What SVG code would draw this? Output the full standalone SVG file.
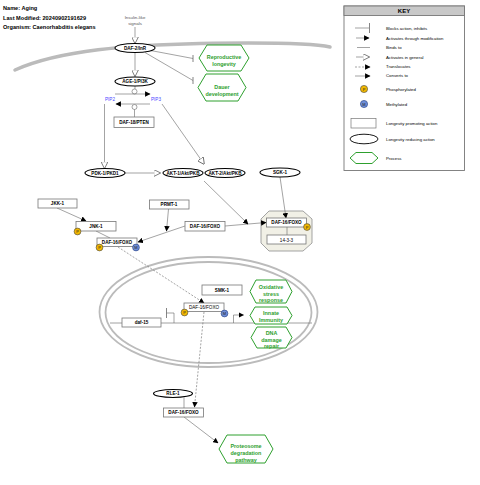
<svg xmlns="http://www.w3.org/2000/svg" width="480" height="485" viewBox="0 0 480 485">
<defs>
<style>
text{font-family:"Liberation Sans",Arial,sans-serif}
.title{font-size:5.6px;font-weight:bold;fill:#000}
.lbl{font-size:4.6px;font-weight:bold;fill:#000;text-anchor:middle}
.box{fill:#fff;stroke:#777;stroke-width:0.8}
.ell{fill:#fff;stroke:#000;stroke-width:1.1}
.hex{fill:#fff;stroke:#2ea02e;stroke-width:1}
.htxt{font-size:5.4px;font-weight:bold;fill:#2ea02e;text-anchor:middle}
.ln{fill:none;stroke:#666;stroke-width:0.6}
.dash{fill:none;stroke:#666;stroke-width:0.6;stroke-dasharray:2,1.5}
.blue{font-size:4.6px;fill:#4a4aff;text-anchor:middle}
.key{font-size:4.3px;fill:#000}
.pc{fill:#f2b800;stroke:#444;stroke-width:0.6}
.mc{fill:#6f8fd8;stroke:#223a80;stroke-width:0.6}
.pm{font-size:4px;fill:#222;text-anchor:middle}
</style>
<marker id="open" viewBox="0 0 10 10" refX="9" refY="5" markerWidth="7" markerHeight="7" markerUnits="userSpaceOnUse" orient="auto">
<path d="M0,0 L10,5 L0,10 Z" fill="#fff" stroke="#666" stroke-width="1.2"/>
</marker>
<marker id="fill" viewBox="0 0 10 10" refX="9" refY="5" markerWidth="5.5" markerHeight="5.5" markerUnits="userSpaceOnUse" orient="auto">
<path d="M0,0 L10,5 L0,10 Z" fill="#000"/>
</marker>
</defs>
<rect width="480" height="485" fill="#fff"/>

<g id="header">
<text class="title" x="3" y="10">Name: Aging</text>
<text class="title" x="3" y="19.5">Last Modified: 20240902191629</text>
<text class="title" x="3" y="29">Organism: Caenorhabditis elegans</text>
</g>

<g id="membrane">
<path d="M15,70 C60,50 130,45 200,43.5 C260,42.5 310,42.5 330,47" fill="none" stroke="#bbb" stroke-width="3.5" stroke-linecap="round"/>
</g>

<g id="nucleus">
<ellipse cx="208.5" cy="312" rx="109" ry="55" fill="none" stroke="#bbb" stroke-width="1.8"/>
<ellipse cx="208.5" cy="312.5" rx="103" ry="50.5" fill="none" stroke="#bbb" stroke-width="1.8"/>
<line x1="110" y1="323" x2="312" y2="323" stroke="#888" stroke-width="0.8"/>
</g>

<g id="complex">
<polygon points="269,211 303,211 312,219 312,243 303,251 269,251 261,243 261,219" fill="#f1f0e6" stroke="#999" stroke-width="0.9"/>
</g>

<g id="connectors">
<text x="135" y="19" style="font-size:4.4px;fill:#555;text-anchor:middle">Insulin-like</text>
<text x="135" y="24.5" style="font-size:4.4px;fill:#555;text-anchor:middle">signals</text>
<line class="ln" x1="135" y1="27" x2="135" y2="43" marker-end="url(#open)"/>
<line class="ln" x1="135" y1="53" x2="135" y2="76" marker-end="url(#open)"/>
<line class="ln" x1="148" y1="50" x2="193" y2="58.5"/>
<line x1="193" y1="55" x2="193" y2="62" stroke="#666" stroke-width="0.8"/>
<line class="ln" x1="145" y1="52.5" x2="193" y2="80.5"/>
<line x1="193" y1="77" x2="193" y2="84" stroke="#666" stroke-width="0.8"/>
<line class="ln" x1="135" y1="86" x2="135" y2="89"/>
<circle cx="134.5" cy="91.5" r="2.5" fill="#fff" stroke="#666" stroke-width="0.6"/>
<line class="ln" x1="115" y1="94" x2="150" y2="94" marker-end="url(#fill)"/>
<line class="ln" x1="150" y1="104" x2="116" y2="104" marker-end="url(#fill)"/>
<circle cx="134.5" cy="107" r="2.5" fill="#fff" stroke="#666" stroke-width="0.6"/>
<line class="ln" x1="134.5" y1="109.5" x2="134.5" y2="117"/>
<line class="ln" x1="104.5" y1="104" x2="104.5" y2="168" marker-end="url(#open)"/>
<line class="ln" x1="162" y1="104" x2="204" y2="164" marker-end="url(#open)"/>
<line class="ln" x1="125" y1="173" x2="160" y2="173" marker-end="url(#open)"/>
<line class="ln" x1="57" y1="208" x2="86" y2="221" marker-end="url(#fill)"/>
<line class="ln" x1="96" y1="231" x2="110" y2="238"/>
<line class="ln" x1="185" y1="226" x2="138" y2="242" marker-end="url(#fill)"/>
<line class="ln" x1="168.5" y1="209" x2="166.5" y2="231" marker-end="url(#fill)"/>
<line class="ln" x1="225" y1="226" x2="266" y2="222.5" marker-end="url(#fill)"/>
<line class="ln" x1="204" y1="181" x2="248" y2="224" marker-end="url(#fill)"/>
<line class="ln" x1="280" y1="177" x2="286" y2="218" marker-end="url(#fill)"/>
<line class="ln" x1="287" y1="227" x2="287" y2="235"/>
<line class="dash" x1="118" y1="247" x2="204" y2="303" marker-end="url(#fill)"/>
<path class="ln" d="M174,323 V313 H166.5"/>
<line x1="166.5" y1="308" x2="166.5" y2="318" stroke="#666" stroke-width="0.8"/>
<path class="ln" d="M233.5,323 V315 H243.5" marker-end="url(#fill)"/>
<line class="dash" x1="204" y1="312" x2="194.5" y2="407" marker-end="url(#fill)"/>
<line class="ln" x1="184" y1="397.5" x2="184" y2="408"/>
<line class="ln" x1="184" y1="417" x2="218" y2="443" marker-end="url(#fill)"/>
</g>

<g id="DAF-2">
<ellipse class="ell" cx="135" cy="48" rx="20" ry="4.5"/>
<text class="lbl" x="135" y="49.8">DAF-2/InR</text>
</g>
<g id="AGE-1">
<ellipse class="ell" cx="135" cy="81.5" rx="20" ry="4.5"/>
<text class="lbl" x="135" y="83.3">AGE-1/PI3K</text>
</g>
<g id="PIP2"><text class="blue" x="110" y="101">PIP2</text></g>
<g id="PIP3"><text class="blue" x="156" y="101">PIP3</text></g>
<g id="DAF-18">
<rect class="box" x="114" y="117" width="40" height="10.5"/>
<text class="lbl" x="134" y="124">DAF-18/PTEN</text>
</g>
<g id="repro">
<polygon class="hex" points="199,58 207,45 241,45 249,58 241,71 207,71"/>
<text class="htxt" x="224" y="58.5">Reproductive</text>
<text class="htxt" x="224" y="66">longevity</text>
</g>
<g id="dauer">
<polygon class="hex" points="198,87.5 206,74 238,74 246,87.5 238,101 206,101"/>
<text class="htxt" x="222" y="88.5">Dauer</text>
<text class="htxt" x="222" y="96">development</text>
</g>
<g id="PDK-1">
<ellipse class="ell" cx="105" cy="173" rx="20" ry="4.5"/>
<text class="lbl" x="105" y="174.8">PDK-1/PKD1</text>
</g>
<g id="AKT-1">
<ellipse class="ell" cx="183" cy="173" rx="20" ry="4.5"/>
<text class="lbl" x="183" y="174.8">AKT-1/Akt/PKB</text>
</g>
<g id="AKT-2">
<ellipse class="ell" cx="225" cy="173" rx="20" ry="4.5"/>
<text class="lbl" x="225" y="174.8">AKT-2/Akt/PKB</text>
</g>
<g id="SGK-1">
<ellipse class="ell" cx="280" cy="172.5" rx="20" ry="4.5"/>
<text class="lbl" x="280" y="174.3">SGK-1</text>
</g>
<g id="JKK-1">
<rect class="box" x="38" y="199" width="39" height="9"/>
<text class="lbl" x="57.5" y="205.3">JKK-1</text>
</g>
<g id="JNK-1">
<rect class="box" x="76" y="221.5" width="40" height="9.5"/>
<text class="lbl" x="96" y="228">JNK-1</text>
<circle class="pc" cx="77.5" cy="231.5" r="3.4"/>
<text class="pm" x="77.5" y="233">P</text>
</g>
<g id="DAF-16-cyto">
<rect class="box" x="97" y="238" width="40" height="8.5"/>
<text class="lbl" x="117" y="244.3">DAF-16/FOXO</text>
<circle class="pc" cx="99.5" cy="247.5" r="3.4"/>
<text class="pm" x="99.5" y="249">P</text>
<circle class="mc" cx="136" cy="247.5" r="3.4"/>
<text class="pm" x="136" y="249">M</text>
</g>
<g id="PRMT-1">
<rect class="box" x="149.5" y="200" width="39.5" height="9"/>
<text class="lbl" x="169" y="206.3">PRMT-1</text>
</g>
<g id="DAF-16-mid">
<rect class="box" x="185" y="221.5" width="40" height="9.5"/>
<text class="lbl" x="205" y="228">DAF-16/FOXO</text>
</g>
<g id="DAF-16-complex">
<rect class="box" x="266.5" y="218" width="40" height="9"/>
<text class="lbl" x="286.5" y="224.3">DAF-16/FOXO</text>
<circle class="pc" cx="307" cy="227" r="3.4"/>
<text class="pm" x="307" y="228.5">P</text>
</g>
<g id="p14-3-3">
<rect class="box" x="267" y="235" width="39" height="9"/>
<text class="lbl" x="286.5" y="241.5" style="font-weight:normal">14-3-3</text>
</g>
<g id="SMK-1">
<rect class="box" x="202" y="285" width="40" height="10"/>
<text class="lbl" x="222" y="291.8">SMK-1</text>
</g>
<g id="DAF-16-nuc">
<rect class="box" x="184" y="303" width="40" height="8.5"/>
<text class="lbl" x="204" y="309.3" style="font-weight:normal">DAF-16/FOXO</text>
<circle class="pc" cx="184.5" cy="312.5" r="3.4"/>
<text class="pm" x="184.5" y="314">P</text>
<circle class="mc" cx="224.5" cy="313.5" r="3.4"/>
<text class="pm" x="224.5" y="315">M</text>
</g>
<g id="daf-15">
<rect class="box" x="122" y="318" width="39" height="9"/>
<text class="lbl" x="141.5" y="324.3">daf-15</text>
</g>
<g id="oxidative">
<polygon class="hex" points="250,291.5 256,280 286,280 292,291.5 286,303 256,303"/>
<text class="htxt" x="271" y="289">Oxidative</text>
<text class="htxt" x="271" y="295.5">stress</text>
<text class="htxt" x="271" y="302">response</text>
</g>
<g id="immunity">
<polygon class="hex" points="250,315.5 255,307 287,307 292,315.5 287,324 255,324"/>
<text class="htxt" x="271" y="314.5">Innate</text>
<text class="htxt" x="271" y="322">Immunity</text>
</g>
<g id="dna">
<polygon class="hex" points="251,337.5 257,327 286,327 292,337.5 286,348 257,348"/>
<text class="htxt" x="271.5" y="335">DNA</text>
<text class="htxt" x="271.5" y="341.5">damage</text>
<text class="htxt" x="271.5" y="348">repair</text>
</g>
<g id="RLE-1">
<ellipse class="ell" cx="173" cy="393.5" rx="19.5" ry="4"/>
<text class="lbl" x="173" y="395.3">RLE-1</text>
</g>
<g id="DAF-16-low">
<rect class="box" x="163.5" y="408" width="40" height="9"/>
<text class="lbl" x="183.5" y="414.3">DAF-16/FOXO</text>
</g>
<g id="proteosome">
<polygon class="hex" points="219,449 227,435 265,435 273,449 265,463 227,463"/>
<text class="htxt" x="246" y="447.5">Proteosome</text>
<text class="htxt" x="246" y="454.5">degradation</text>
<text class="htxt" x="246" y="461.5">pathway</text>
</g>

<g id="key">
<rect x="344" y="6" width="120.5" height="164.5" fill="#fff" stroke="#777" stroke-width="0.9"/>
<rect x="344" y="6" width="120.5" height="9.5" fill="#c8c8c8" stroke="#777" stroke-width="0.9"/>
<text x="404" y="13.3" style="font-size:6px;font-weight:bold;text-anchor:middle">KEY</text>
<line class="ln" x1="355" y1="28" x2="369" y2="28"/>
<line x1="369.5" y1="23" x2="369.5" y2="33" stroke="#666" stroke-width="0.8"/>
<text class="key" x="386" y="29.5">Blocks action, inhibits</text>
<line class="ln" x1="356" y1="38" x2="369" y2="38" marker-end="url(#fill)"/>
<text class="key" x="386" y="39.5">Activates through modification</text>
<line class="ln" x1="357" y1="47.5" x2="370" y2="47.5"/>
<text class="key" x="386" y="49">Binds to</text>
<line class="ln" x1="356" y1="57" x2="369" y2="57" marker-end="url(#open)"/>
<text class="key" x="386" y="58.5">Activates in general</text>
<line class="dash" x1="355" y1="67" x2="370" y2="67" marker-end="url(#fill)"/>
<text class="key" x="386" y="68">Translocates</text>
<line class="ln" x1="355" y1="76" x2="370" y2="76" marker-end="url(#fill)"/>
<text class="key" x="386" y="77">Converts to</text>
<circle class="pc" cx="364" cy="89" r="3.6"/>
<text class="pm" x="364" y="90.5">P</text>
<text class="key" x="386" y="90.5">Phosphorylated</text>
<circle class="mc" cx="364" cy="104" r="3.6"/>
<text class="pm" x="364" y="105.5">M</text>
<text class="key" x="386" y="105.5">Methylated</text>
<rect x="351" y="118.5" width="25" height="9.5" fill="#fff" stroke="#777" stroke-width="0.7"/>
<text class="key" x="386" y="124.5">Longevity promoting action</text>
<ellipse cx="364" cy="139" rx="14" ry="4.8" fill="#fff" stroke="#000" stroke-width="0.9"/>
<text class="key" x="386" y="140.5">Longevity reducing action</text>
<polygon class="hex" points="350,158 356,152.5 372,152.5 378,158 372,163.5 356,163.5"/>
<text class="key" x="386" y="159.5">Process</text>
</g>
</svg>
